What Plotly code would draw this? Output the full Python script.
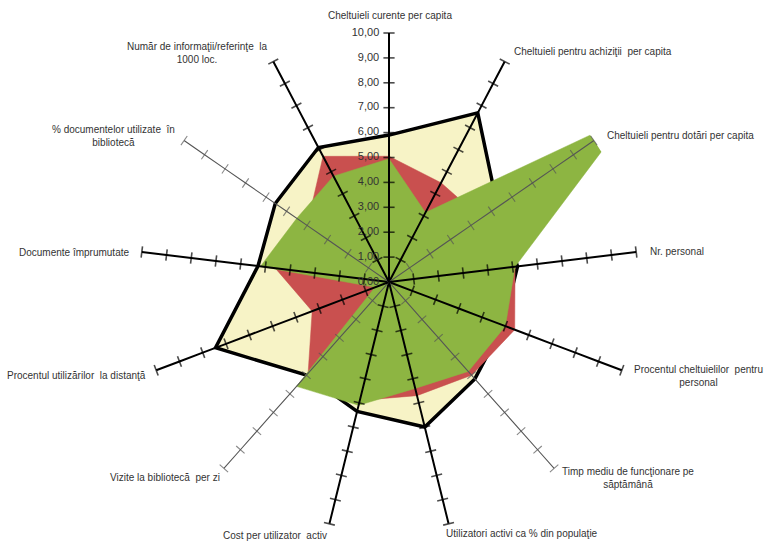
import plotly.graph_objects as go

categories = [
    "Cheltuieli curente per capita",
    "Cheltuieli pentru achiziţii per capita",
    "Cheltuieli pentru dotări per capita",
    "Nr. personal",
    "Procentul cheltuielilor pentru personal",
    "Timp mediu de funcţionare pe săptămână",
    "Utilizatori activi ca % din populaţie",
    "Cost per utilizator activ",
    "Vizite la bibliotecă per zi",
    "Procentul utilizărilor la distanţă",
    "Documente împrumutate",
    "% documentelor utilizate în bibliotecă",
    "Număr de informaţii/referinţe la 1000 loc.",
]
yellow_vals = [5.9, 7.67, 5.3, 5.2, 4.9, 5.2, 6.0, 5.35, 5.0, 7.45, 5.3, 5.55, 6.1]
red_vals = [5.05, 4.5, 4.5, 5.1, 5.4, 5.0, 4.7, 4.9, 4.9, 3.3, 4.6, 4.0, 5.7]
green_vals = [4.95, 3.15, 11.6, 5.1, 5.0, 4.8, 4.4, 5.1, 5.6, 0.6, 5.2, 4.5, 4.8]
tick_vals = [0, 1, 2, 3, 4, 5, 6, 7, 8, 9, 10]
tick_labels = ["0,00", "1,00", "2,00", "3,00", "4,00", "5,00", "6,00", "7,00", "8,00", "9,00", "10,00"]

# label layout (pixel positions in the 765x544 page)
label_texts = [
    "Cheltuieli curente per capita",
    "Cheltuieli pentru achiziţii  per capita",
    "Cheltuieli pentru dotări per capita",
    "Nr. personal",
    "Procentul cheltuielilor  pentru<br>personal",
    "Timp mediu de funcţionare pe<br>săptămână",
    "Utilizatori activi ca % din populaţie",
    "Cost per utilizator  activ",
    "Vizite la bibliotecă  per zi",
    "Procentul utilizărilor  la distanţă",
    "Documente împrumutate",
    "% documentelor utilizate  în<br>bibliotecă",
    "Număr de informaţii/referinţe  la<br>1000 loc.",
]
label_pos = [
    (390, 15, "center"), (512, 51, "left"), (605, 135, "left"), (648, 251, "left"),
    (698, 376, "center"), (628, 478, "center"), (522, 533, "center"), (275, 535, "center"),
    (222, 477, "right"), (148, 375, "right"), (131, 252, "right"), (113, 136, "center"),
    (197, 53, "center"),
]

W, H = 765, 544
n = len(categories)

fig = go.Figure()

def closed(vals):
    return list(vals) + [vals[0]], categories + [categories[0]]

r, th = closed(yellow_vals)
fig.add_trace(go.Scatterpolar(r=r, theta=th, fill="toself", fillcolor="#F7F3C6",
                              line=dict(color="black", width=3.5), mode="lines",
                              hoverinfo="skip", showlegend=False))
r, th = closed(red_vals)
fig.add_trace(go.Scatterpolar(r=r, theta=th, fill="toself", fillcolor="#C9504F",
                              line=dict(color="#C9504F", width=0.5), mode="lines",
                              hoverinfo="skip", showlegend=False))
r, th = closed(green_vals)
fig.add_trace(go.Scatterpolar(r=r, theta=th, fill="toself", fillcolor="#8DB542",
                              line=dict(color="#8DB542", width=0.5), mode="lines",
                              hoverinfo="skip", showlegend=False))

# spokes with tick crosses
for i, cat in enumerate(categories):
    thin = i % 3 == 2
    col = "#555555" if thin else "black"
    lw = 1.1 if thin else 2
    ang = i * 360.0 / n
    fig.add_trace(go.Scatterpolar(
        r=tick_vals, theta=[cat] * len(tick_vals), mode="lines+markers",
        line=dict(color=col, width=lw),
        marker=dict(symbol="line-ew", size=[0] + [8] * (len(tick_vals) - 1), angle=ang,
                    color=col, line=dict(color=col, width=1.6 if not thin else 1.1)),
        hoverinfo="skip", showlegend=False, cliponaxis=False))

# radial value labels along the first spoke
fig.add_trace(go.Scatterpolar(
    r=tick_vals, theta=[categories[0]] * len(tick_vals), mode="markers+text",
    text=tick_labels, textposition="middle left",
    marker=dict(size=14, opacity=0),
    textfont=dict(family="Liberation Sans, Arial", size=11, color="#333333"),
    hoverinfo="skip", showlegend=False, cliponaxis=False))

cx, cy, rad = 389, 282, 249
fig.update_layout(
    width=W, height=H, margin=dict(l=0, r=0, t=0, b=0),
    paper_bgcolor="white", plot_bgcolor="white",
    polar=dict(
        domain=dict(x=[(cx - rad) / W, (cx + rad) / W], y=[(H - cy - rad) / H, (H - cy + rad) / H]),
        bgcolor="rgba(0,0,0,0)",
        radialaxis=dict(range=[0, 10], showline=False, showgrid=False, showticklabels=False, ticks=""),
        angularaxis=dict(type="category", categoryarray=categories, direction="clockwise", rotation=90,
                         showline=False, showgrid=False, showticklabels=False, ticks=""),
    ),
)

for txt, (x, y, al) in zip(label_texts, label_pos):
    xa = {"left": "left", "right": "right", "center": "center"}[al]
    fig.add_annotation(x=x / W, y=1 - y / H, xref="paper", yref="paper", text=txt,
                       showarrow=False, xanchor=xa, yanchor="middle", align=al,
                       font=dict(family="Liberation Sans, Arial", size=10, color="#333333"))

fig.write_html("out.html")
